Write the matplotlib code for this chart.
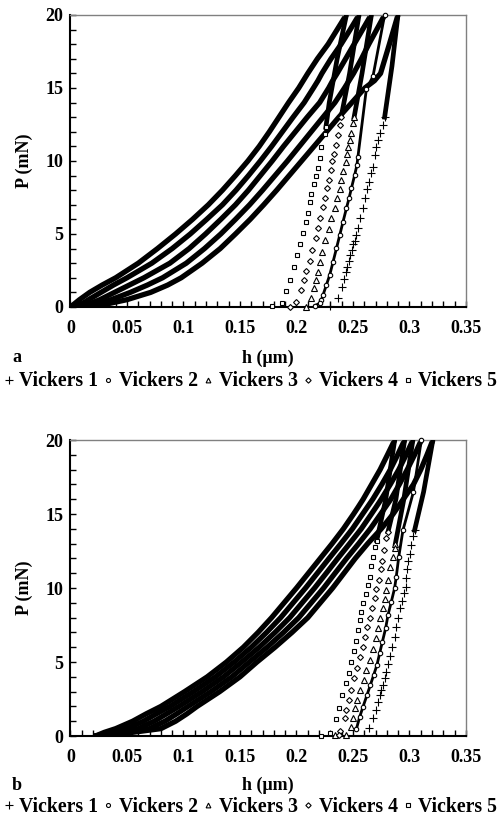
import matplotlib
matplotlib.use("Agg")
import matplotlib.pyplot as plt
from matplotlib.lines import Line2D
from matplotlib.ticker import MultipleLocator

plt.rcParams["font.family"] = ["Liberation Serif", "DejaVu Serif"]
plt.rcParams["font.weight"] = "bold"

SERIES = ["Vickers 1", "Vickers 2", "Vickers 3", "Vickers 4", "Vickers 5"]
MARKERS = ["+", "o", "^", "D", "s"]
MARKER_SIZES = [6.0, 3.2, 3.8, 3.0, 3.3]

# loading branch: depth (um) read at these loads (mN)
LOAD_P = [0, 0.25, 0.5, 1, 1.5, 2, 3, 4, 5, 6, 7, 8, 9, 10, 11, 12, 13, 14, 15, 15.5, 16, 17, 18, 19, 20]

A_LOAD_H = [
    [0, .035, .050, .071, .086, .098, .1165, .1325, .146, .159, .171, .1825, .1935, .2045, .2155, .2265,
     .2375, .249, .2605, .269, .2744, .2783, .2822, .286, .2898],
    [0, .026, .036, .053, .068, .0815, .1025, .1186, .133, .146, .1585, .170, .181, .192, .2025, .213,
     .2235, .234, .2425, .2465, .2505, .2575, .264, .271, .278],
    [0, .018, .026, .039, .052, .065, .088, .105, .1195, .133, .146, .1575, .168, .1785, .1885, .199,
     .2095, .2205, .2285, .232, .236, .2435, .251, .2585, .266],
    [0, .011, .016, .027, .038, .050, .072, .090, .106, .1205, .1345, .1465, .1575, .168, .178, .1875,
     .197, .2068, .215, .219, .2225, .2305, .2395, .2475, .2553],
    [0, .004, .008, .017, .028, .040, .060, .077, .093, .108, .122, .1345, .146, .157, .167, .176,
     .1845, .193, .202, .206, .210, .2185, .228, .236, .244],
]

B_LOAD_H = [
    [.022, .055, .080, .093, .103, .112, .132, .150, .165, .181, .196, .210, .221, .232, .242, .252,
     .263, .275, .2855, .290, .2945, .3035, .310, .3155, .3207],
    [.022, .049, .070, .0835, .094, .104, .1243, .1428, .1583, .174, .1885, .202, .213, .224, .2341, .2443,
     .255, .2653, .2745, .279, .2835, .291, .298, .3045, .3105],
    [.022, .0425, .060, .074, .085, .096, .1165, .1355, .1515, .167, .181, .194, .205, .216, .2263, .2365,
     .247, .2573, .2663, .2707, .275, .283, .2905, .297, .303],
    [.022, .036, .050, .0645, .076, .088, .1088, .1283, .1448, .160, .1735, .186, .197, .208, .2184, .2288,
     .2393, .2495, .2585, .263, .2675, .2755, .283, .2895, .2957],
    [.022, .030, .040, .055, .067, .080, .101, .121, .138, .153, .166, .178, .189, .200, .2105, .221,
     .2315, .2415, .2505, .2548, .259, .2665, .274, .2805, .2869],
]

# unloading branch: first points are the densely sampled top part
A_UNLOAD_H = [
    [0.2898, 0.2845, 0.2780, 0.2765, 0.2736, 0.2721, 0.2707, 0.2692, 0.2677, 0.2663, 0.2641, 0.2624, 0.2603, 0.2588,
     0.2565, 0.2544, 0.2530, 0.2515, 0.2500, 0.2488, 0.2477, 0.2465, 0.2450, 0.2435, 0.2418, 0.2406, 0.2367, 0.2294],
    [0.278, 0.2677, 0.2618, 0.2544, 0.2535, 0.2515, 0.2486, 0.2465, 0.2442, 0.2412, 0.2383, 0.2354, 0.2324, 0.2294,
     0.2265, 0.2235, 0.2221, 0.2206, 0.2162],
    [0.2663, 0.258, 0.251, 0.2500, 0.2486, 0.2471, 0.2456, 0.2447, 0.2435, 0.2412, 0.2397, 0.2382, 0.2359, 0.2338,
     0.2309, 0.2285, 0.2250, 0.2226, 0.2206, 0.2191, 0.2170, 0.2156, 0.2132, 0.2082],
    [0.2553, 0.247, 0.2395, 0.2382, 0.2367, 0.2353, 0.2332, 0.2318, 0.2309, 0.2288, 0.2270, 0.2250, 0.2235, 0.2212,
     0.2191, 0.2170, 0.2141, 0.2117, 0.2088, 0.2064, 0.2044, 0.2000, 0.1940],
    [0.2442, 0.236, 0.229, 0.226, 0.2250, 0.2220, 0.2206, 0.2191, 0.2177, 0.2156, 0.2132, 0.2117, 0.2102, 0.2082,
     0.2058, 0.2035, 0.2005, 0.1976, 0.1947, 0.1911, 0.1876, 0.1787],
]
A_UNLOAD_P = [
    [20, 16.5, 13.0, 12.47, 11.9, 11.44, 10.98, 10.4, 9.6, 9.15, 8.58, 8.08, 7.49, 6.8,
     6.1, 5.43, 4.93, 4.52, 4.29, 3.9, 3.56, 3.15, 2.76, 2.37, 1.92, 1.39, 0.59, 0.1],
    [20, 15.8, 14.9, 10.3, 9.73, 9.04, 8.13, 7.44, 6.76, 5.84, 4.93, 4.02, 3.1, 2.19,
     1.51, 0.82, 0.48, 0.25, 0.09],
    [20, 16, 13.0, 12.58, 11.9, 11.44, 10.98, 10.48, 9.95, 9.32, 8.7, 8.08, 7.44, 6.76,
     6.08, 5.34, 4.59, 3.79, 3.06, 2.42, 1.85, 1.32, 0.59, 0.02],
    [20, 16, 13.0, 12.47, 11.78, 11.1, 10.48, 10.0, 9.38, 8.7, 8.13, 7.49, 6.88, 6.12,
     5.39, 4.71, 3.9, 3.15, 2.47, 1.83, 1.16, 0.36, 0.02],
    [20, 17, 14, 12.3, 11.85, 10.94, 10.23, 9.54, 8.99, 8.4, 7.77, 7.17, 6.42, 5.8,
     5.05, 4.29, 3.56, 2.76, 1.85, 1.1, 0.25, 0.09],
]
A_DENSE = [3, None, 3, 3, 4]

B_UNLOAD_H = [
    [0.3207, 0.3125, 0.3045, 0.3030, 0.3016, 0.3001, 0.2986, 0.2978, 0.2972, 0.2966, 0.2948, 0.2937, 0.2919, 0.2898,
     0.2883, 0.2868, 0.2847, 0.2824, 0.2809, 0.2795, 0.2780, 0.2765, 0.2751, 0.2736, 0.2721, 0.2700, 0.2677, 0.2641],
    [0.3105, 0.3035, 0.2942, 0.2905, 0.2883, 0.2868, 0.2839, 0.2810, 0.2789, 0.2760, 0.2736, 0.2712, 0.2683, 0.2654,
     0.2624, 0.2589, 0.2560, 0.2530],
    [0.303, 0.295, 0.2875, 0.2869, 0.2854, 0.2830, 0.2809, 0.2789, 0.2780, 0.2765, 0.2742, 0.2721, 0.2707, 0.2677,
     0.2648, 0.2618, 0.2595, 0.2560, 0.2536, 0.2515, 0.2500, 0.2486, 0.2440, 0.2338],
    [0.2957, 0.288, 0.281, 0.2795, 0.2775, 0.2755, 0.2745, 0.2730, 0.2707, 0.2692, 0.2672, 0.2648, 0.2624, 0.2603,
     0.2588, 0.2559, 0.2536, 0.2507, 0.2486, 0.2465, 0.2442, 0.2427, 0.2389, 0.2380],
    [0.2869, 0.279, 0.271, 0.2692, 0.2677, 0.2663, 0.2648, 0.2633, 0.2612, 0.2589, 0.2575, 0.2560, 0.2545, 0.2524,
     0.2507, 0.2486, 0.2465, 0.2436, 0.2407, 0.2377, 0.2347, 0.2300, 0.2220],
]
B_UNLOAD_P = [
    [20, 16.5, 13.9, 13.5, 12.9, 12.3, 11.8, 11.3, 10.66, 10.09, 9.64, 9.12, 8.63, 7.99,
     7.38, 6.71, 6.03, 5.42, 4.84, 4.34, 3.89, 3.45, 3.11, 2.77, 2.32, 1.76, 1.2, 0.56],
    [20, 16.5, 13.9, 12.1, 10.76, 9.98, 9.07, 8.18, 7.28, 6.37, 5.59, 4.8, 4.12, 3.45,
     2.77, 1.98, 1.31, 0.47],
    [20, 16, 13.0, 12.7, 12.1, 11.4, 10.54, 9.86, 9.26, 8.63, 7.95, 7.32, 6.64, 5.88,
     5.14, 4.46, 3.78, 3.11, 2.43, 1.87, 1.24, 0.63, 0.1, 0.05],
    [20, 16, 13.8, 13.4, 12.6, 11.8, 11.3, 10.54, 9.93, 9.3, 8.63, 7.99, 7.39, 6.71,
     6.03, 5.36, 4.61, 3.9, 3.11, 2.43, 1.76, 1.2, 0.34, 0.05],
    [20, 16, 13.2, 12.8, 12.1, 11.5, 10.76, 10.2, 9.57, 8.96, 8.4, 7.84, 7.16, 6.42,
     5.74, 5.02, 4.24, 3.56, 2.77, 1.91, 1.15, 0.18, 0.02],
]
B_DENSE = [3, None, 3, 3, 3]

X_TICKS = [0, 0.05, 0.1, 0.15, 0.2, 0.25, 0.3, 0.35]
X_TICK_LABELS = ["0", "0.05", "0.1", "0.15", "0.2", "0.25", "0.3", "0.35"]
Y_TICKS = [0, 5, 10, 15, 20]

FS = 13
LEGEND_FS = 14.2


def draw_panel(ax, load_h, unload_h, unload_p, dense):
    for h in load_h:
        ax.plot(h, LOAD_P, color="black", lw=3.8, solid_capstyle="round",
                solid_joinstyle="round", zorder=2)
    for i in range(len(SERIES)):
        uh, up = unload_h[i], unload_p[i]
        n = dense[i] if dense[i] is not None else len(uh)
        lw = 2.0 if dense[i] is None else 3.4
        ax.plot(uh[:n], up[:n], color="black", lw=lw, zorder=3)
        start = 0 if dense[i] is None else n - 1
        ax.plot(uh[start:], up[start:], ls="none", marker=MARKERS[i],
                ms=MARKER_SIZES[i], mfc="white", mec="black", mew=0.8,
                clip_on=False, zorder=4)

    ax.set_xlim(0, 0.35)
    ax.set_ylim(0, 20)
    ax.set_xticks(X_TICKS)
    ax.set_xticklabels(X_TICK_LABELS)
    ax.set_yticks(Y_TICKS)
    ax.xaxis.set_minor_locator(MultipleLocator(0.01))
    ax.yaxis.set_minor_locator(MultipleLocator(1))
    ax.tick_params(which="both", direction="in", length=4, width=1,
                   top=False, right=False, labelsize=FS)
    ax.tick_params(axis="x", pad=9.5)
    ax.tick_params(axis="y", pad=5)
    for lab in ax.get_xticklabels() + ax.get_yticklabels():
        lab.set_fontweight("bold")
    for side in ["top", "right"]:
        ax.spines[side].set_color("#808080")
        ax.spines[side].set_linewidth(1.0)
    for side in ["left", "bottom"]:
        ax.spines[side].set_color("black")
        ax.spines[side].set_linewidth(1.5)


def add_texts(fig, ax, letter, label_y, legend_y):
    W, H = 501, 819
    pos = ax.get_position()
    fig.text(24 / W, (pos.y0 + pos.y1) / 2, "P (mN)", rotation=90,
             ha="center", va="center", fontsize=FS, fontweight="bold")
    fig.text(268 / W, 1 - label_y / H, "h (\u03bcm)", ha="center", va="center",
             fontsize=FS, fontweight="bold")
    fig.text(17 / W, 1 - label_y / H, letter, ha="center", va="center",
             fontsize=FS, fontweight="bold")
    handles = [Line2D([], [], ls="none", marker=m, ms=s * 0.9, mfc="white",
                      mec="black", mew=0.8) for m, s in zip(MARKERS, MARKER_SIZES)]
    fig.legend(handles, SERIES, loc="center", bbox_to_anchor=(0.5, 1 - legend_y / H),
               ncol=5, frameon=False, handlelength=0.5, handletextpad=0.3,
               columnspacing=0.25, borderpad=0, borderaxespad=0,
               prop={"size": LEGEND_FS, "weight": "bold"})


fig = plt.figure(figsize=(5.01, 8.19), dpi=100)
ax_a = fig.add_axes([0.1407, 0.6252, 0.7894, 0.3565])
ax_b = fig.add_axes([0.1407, 0.1013, 0.7894, 0.3614])

draw_panel(ax_a, A_LOAD_H, A_UNLOAD_H, A_UNLOAD_P, A_DENSE)
draw_panel(ax_b, B_LOAD_H, B_UNLOAD_H, B_UNLOAD_P, B_DENSE)

add_texts(fig, ax_a, "a", 358, 381.5)
add_texts(fig, ax_b, "b", 785, 807)

fig.savefig("out.png", dpi=100)
